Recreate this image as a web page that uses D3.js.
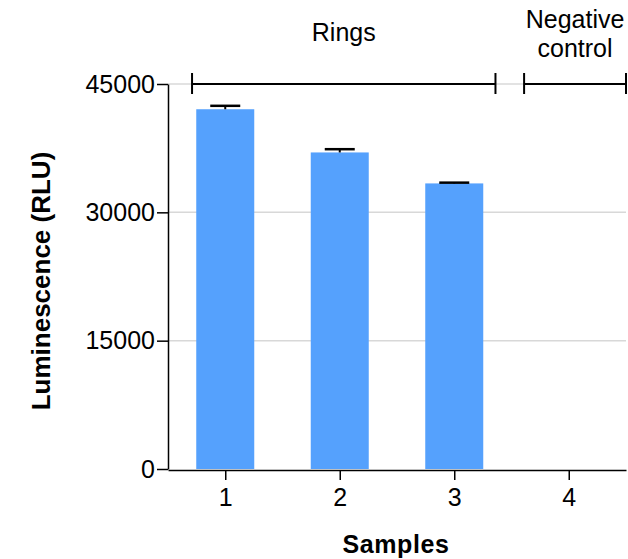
<!DOCTYPE html>
<html>
<head>
<meta charset="utf-8">
<script src="https://cdn.jsdelivr.net/npm/d3@7"></script>
<style>
  body { margin: 0; background: #fff; }
  text { font-family: Arial, "Liberation Sans", sans-serif; fill: #000; }
</style>
</head>
<body>
<div class="chart"></div>
<script>
'use strict';

const samples = [1, 2, 3, 4];
const means = [42050, 37000, 33380, null];
const sds = [400, 380, 90, null];
const yTicks = [0, 15000, 30000, 45000];
const groups = [
  { label: ['Rings'], from: 0.71, to: 3.36 },
  { label: ['Negative', 'control'], from: 3.61, to: 4.5 }
];

const FULL_WIDTH = 628;
const FULL_HEIGHT = 559;
const margin = { top: 84, right: 2, bottom: 90, left: 168 };
const WIDTH = FULL_WIDTH - margin.left - margin.right;
const HEIGHT = FULL_HEIGHT - margin.top - margin.bottom;
const BAR_W = 58;
const CAP_W = 30;
const FONT = 'Arial, "Liberation Sans", sans-serif';

const svg = d3.select('.chart')
  .append('svg')
    .attr('width', FULL_WIDTH)
    .attr('height', FULL_HEIGHT)
  .append('g')
    .attr('transform', 'translate(' + margin.left + ',' + margin.top + ')');

const x = d3.scaleLinear()
  .domain([0.5, 4.5])
  .range([0, WIDTH]);

const y = d3.scaleLinear()
  .domain([0, 45000])
  .range([HEIGHT, 0]);

// gridlines
svg.selectAll('.grid')
  .data(yTicks.filter((d) => d > 0))
  .enter()
  .append('line')
    .attr('x1', 0)
    .attr('x2', WIDTH)
    .attr('y1', (d) => y(d))
    .attr('y2', (d) => y(d))
    .attr('stroke', '#d8d8d8')
    .attr('stroke-width', 1.5);

// bars
const data = samples.map((s, i) => ({ s: s, m: means[i], sd: sds[i] })).filter((d) => d.m != null);

svg.selectAll('.bar')
  .data(data)
  .enter()
  .append('rect')
    .attr('x', (d) => x(d.s) - BAR_W / 2)
    .attr('width', BAR_W)
    .attr('y', (d) => y(d.m))
    .attr('height', (d) => y(0) - y(d.m))
    .attr('fill', '#55a1fd');

// error bars
svg.selectAll('.err')
  .data(data)
  .enter()
  .append('line')
    .attr('x1', (d) => x(d.s))
    .attr('x2', (d) => x(d.s))
    .attr('y1', (d) => y(d.m))
    .attr('y2', (d) => y(d.m + d.sd))
    .attr('stroke', '#000')
    .attr('stroke-width', 2);

svg.selectAll('.cap')
  .data(data)
  .enter()
  .append('line')
    .attr('x1', (d) => x(d.s) - CAP_W / 2)
    .attr('x2', (d) => x(d.s) + CAP_W / 2)
    .attr('y1', (d) => y(d.m + d.sd))
    .attr('y2', (d) => y(d.m + d.sd))
    .attr('stroke', '#000')
    .attr('stroke-width', 2.5);

// axes
const yAxis = svg.append('g')
  .call(d3.axisLeft(y).tickValues(yTicks).tickFormat(d3.format('d')).tickSize(11).tickPadding(2).tickSizeOuter(0));
yAxis.attr('font-size', 25).attr('font-family', FONT);
yAxis.select('.domain').attr('stroke-width', 1.5);
yAxis.selectAll('.tick line').attr('stroke-width', 1.5);
yAxis.selectAll('.tick text').attr('fill', '#000');

const xAxis = svg.append('g')
  .attr('transform', 'translate(0,' + (HEIGHT + 1) + ')')
  .call(d3.axisBottom(x).tickValues(samples).tickFormat(d3.format('d')).tickSize(10).tickPadding(8).tickSizeOuter(0));
xAxis.attr('font-size', 25).attr('font-family', FONT);
xAxis.select('.domain').attr('stroke-width', 1.5);
xAxis.selectAll('.tick line').attr('stroke-width', 1.5);
xAxis.selectAll('.tick text').attr('fill', '#000');

// group brackets
const brackets = svg.selectAll('.bracket')
  .data(groups)
  .enter()
  .append('g');

brackets.append('line')
  .attr('x1', (d) => x(d.from))
  .attr('x2', (d) => x(d.to))
  .attr('y1', 0)
  .attr('y2', 0)
  .attr('stroke', '#000')
  .attr('stroke-width', 2);

brackets.each(function (d) {
  const g = d3.select(this);
  [d.from, d.to].forEach((v) => {
    g.append('line')
      .attr('x1', x(v))
      .attr('x2', x(v))
      .attr('y1', -11)
      .attr('y2', 10)
      .attr('stroke', '#000')
      .attr('stroke-width', 2);
  });
  const cx = (x(d.from) + x(d.to)) / 2;
  const base = d.label.length === 1 ? -43 : -56;
  d.label.forEach((t, i) => {
    g.append('text')
      .attr('x', cx)
      .attr('y', base + i * 29)
      .attr('text-anchor', 'middle')
      .attr('font-size', '25px')
      .text(t);
  });
});

// axis titles
svg.append('text')
  .attr('x', WIDTH / 2 - 1)
  .attr('y', HEIGHT + 84)
  .attr('text-anchor', 'middle')
  .attr('font-size', '25px')
  .attr('font-weight', 'bold')
  .attr('letter-spacing', '0.6px')
  .text('Samples');

svg.append('text')
  .attr('transform', 'rotate(-90)')
  .attr('x', -197)
  .attr('y', -118)
  .attr('text-anchor', 'middle')
  .attr('font-size', '26px')
  .attr('font-weight', 'bold')
  .text('Luminescence (RLU)');
</script>
</body>
</html>
